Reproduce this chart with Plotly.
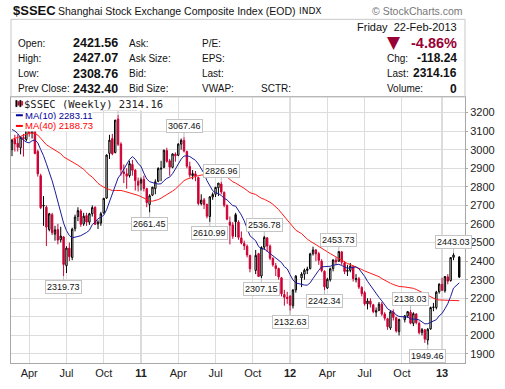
import pandas as pd
import plotly.graph_objects as go

# ---------------- data ----------------
first_week = "2010-02-22"   # Monday of first weekly bar
n_weeks = 157

opens = [3000, 3055, 3035, 3010, 3065, 3055, 3110, 3090, 3100, 2990, 2860, 2700, 2690, 2570, 2650, 2545, 2570, 2515, 2530, 2375,
         2470, 2420, 2575, 2640, 2670, 2600, 2645, 2610, 2655, 2690, 2600, 2605, 2660, 2740, 2980, 3060, 2985, 3165, 3030, 2880,
         2870, 2860, 2920, 2890, 2830, 2820, 2840, 2790, 2705, 2755, 2790, 2830, 2895, 2905, 2995, 2940, 2905, 2975, 2970, 3030,
         3050, 2990, 2910, 2860, 2870, 2850, 2710, 2730, 2705, 2640, 2745, 2760, 2795, 2815, 2770, 2700, 2610, 2595, 2650, 2610,
         2525, 2495, 2480, 2430, None, 2350, 2440, 2320, 2475, 2525, 2480, 2415, 2375, 2360, 2310, 2220, 2205, 2212, 2160, 2245,
         None, 2310, 2330, 2350, 2360, 2440, 2460, 2440, 2400, 2345, 2255, 2300, 2360, 2405, 2400, 2450, 2390, 2345, 2350, 2370,
         2300, 2305, 2258, 2230, 2170, 2185, 2165, 2125, 2135, 2168, 2115, 2090, 2040, 2125, 2095, 2020, None, 2085, 2105, 2125,
         2065, 2115, 2065, 2015, 2030, 1975, 2035, 2150, 2150, 2235, 2275, 2240, 2315, 2295, 2420, None, 2421.56]
highs = [3058, 3080, 3082, 3070, 3085, 3125, 3128, 3120, 3105, 3000, 2870, 2750, 2700, 2660, 2660, 2590, 2600, 2585, 2535, 2480,
         2500, 2580, 2650, 2690, 2680, 2660, 2660, 2660, 2700, 2695, 2620, 2665, 2740, 2975, 3080, 3085, 3160, 3186.72, 3040, 2920,
         2900, 2940, 2945, 2895, 2850, 2850, 2860, 2795, 2760, 2800, 2840, 2905, 2940, 3000, 3010, 2950, 2980, 2985, 3035, 3060,
         3067.46, 2995, 2935, 2890, 2885, 2855, 2760, 2740, 2710, 2750, 2770, 2800, 2820, 2826.96, 2775, 2705, 2640, 2610, 2660, 2620,
         2560, 2510, 2490, 2435, None, 2460, 2445, 2480, 2536.78, 2530, 2490, 2420, 2390, 2365, 2315, 2245, 2235, 2215, 2250, 2325,
         None, 2340, 2360, 2370, 2445, 2478, 2465, 2450, 2410, 2350, 2310, 2365, 2410, 2420, 2453.73, 2452, 2400, 2380, 2390, 2375,
         2330, 2315, 2265, 2240, 2200, 2200, 2170, 2150, 2180, 2180, 2125, 2095, 2135, 2140, 2100, 2090, None, 2110, 2130, 2138.03,
         2125, 2120, 2075, 2040, 2035, 2040, 2155, 2175, 2240, 2280, 2310, 2320, 2330, 2420, 2443.03, None, 2427.07]
lows = [2965, 2990, 2990, 2975, 2963, 3045, 3070, 3060, 2975, 2855, 2680, 2590, 2481, 2560, 2540, 2510, 2490, 2500, 2319.73, 2336,
        2400, 2405, 2560, 2615, 2585, 2590, 2590, 2595, 2640, 2595, 2573, 2590, 2655, 2735, 2950, 2970, 2980, 3020, 2860, 2820,
        2790, 2850, 2860, 2780, 2775, 2780, 2775, 2690, 2661.45, 2750, 2760, 2825, 2830, 2900, 2930, 2860, 2900, 2935, 2965, 3000,
        2985, 2900, 2850, 2840, 2830, 2700, 2700, 2680, 2630, 2610.99, 2730, 2745, 2750, 2760, 2690, 2620, 2490, 2520, 2530, 2515,
        2490, 2460, 2420, 2340, None, 2330, 2315, 2307.15, 2460, 2450, 2405, 2370, 2320, 2300, 2210, 2160, 2170, 2132.63, 2145, 2230,
        None, 2260, 2300, 2330, 2355, 2430, 2400, 2380, 2340, 2242.34, 2250, 2290, 2345, 2380, 2395, 2380, 2330, 2320, 2340, 2290,
        2285, 2250, 2210, 2160, 2140, 2150, 2120, 2100, 2130, 2105, 2080, 2030, 2030, 2080, 2015, 2000, None, 2070, 2095, 2060,
        2050, 2060, 2005, 2000, 1960, 1949.46, 2030, 2130, 2140, 2225, 2240, 2230, 2275, 2290, 2405, None, 2308.76]
closes = [3051, 3031, 3013, 3067, 3059, 3110, 3090, 3100, 2980, 2870, 2688, 2697, 2583, 2655, 2553, 2568, 2513, 2535, 2382, 2470,
          2424, 2572, 2637, 2672, 2598, 2642, 2610, 2655, 2688, 2598, 2610, 2655, 2738, 2971, 3051, 2978, 3159, 3029, 2894, 2871,
          2857, 2925, 2889, 2834, 2808, 2838, 2791, 2715, 2752, 2798, 2827, 2899, 2900, 2997, 2937, 2906, 2977, 2967, 3030, 3050,
          2993, 2911, 2863, 2871, 2858, 2710, 2728, 2705, 2642, 2746, 2759, 2797, 2820, 2772, 2701, 2626, 2593, 2534, 2612, 2528,
          2497, 2482, 2433, 2359, None, 2431, 2317, 2473, 2528, 2481, 2416, 2380, 2360, 2315, 2224, 2205, 2199, 2163, 2244, 2319,
          None, 2330, 2351, 2357, 2439, 2460, 2439, 2404, 2349, 2262, 2302, 2359, 2406, 2396, 2452, 2394, 2344, 2350, 2373, 2306,
          2306, 2260, 2225, 2170, 2185, 2168, 2128, 2133, 2168, 2115, 2093, 2047, 2127, 2097, 2024, 2086, None, 2105, 2128, 2066,
          2117, 2069, 2015, 2031, 1980, 2033, 2150, 2153, 2233, 2276, 2243, 2317, 2292, 2419, 2432.40, None, 2314.16]

# weekly closes before the first visible bar (for the moving averages)
pre_closes = [2780, 2810, 2840, 2850, 2880, 2905, 3012, 3113, 3189, 3372, 3412, 3260, 3046, 2960, 2860, 2861, 3029, 3060,
              2880, 2779, 2911, 2976, 3039, 2995, 3130, 3187, 3308, 3096, 3323, 3248, 3113, 3154, 3277, 3196, 3224, 3128,
              2989, 2939, 3018]

# swing labels: (week index, which)
swing_labels = [(37, "high"), (18, "low"), (60, "high"), (48, "low"), (73, "high"), (69, "low"), (88, "high"),
                (87, "low"), (97, "low"), (114, "high"), (109, "low"), (139, "high"), (145, "low"), (154, "high")]

legend_values = {"price": "2314.16", "ma10": "2283.11", "ma40": "2188.73"}
candle_override = {156: "filled_black"}

y_ticks = list(range(1900, 3300, 100))

# ---------------- derived ----------------
weeks = pd.date_range(first_week, periods=n_weeks, freq="7D")
idx = list(range(n_weeks))

prev_close = []
last = pre_closes[-1]
for c in closes:
    prev_close.append(last)
    if c is not None:
        last = c

def kind(i):
    if i in candle_override:
        return candle_override[i]
    up = closes[i] >= opens[i]
    higher = closes[i] >= prev_close[i]
    if up and higher:
        return "hollow_black"
    if up and not higher:
        return "hollow_red"
    if (not up) and higher:
        return "filled_black"
    return "filled_red"

RED = "#cc0033"
styles = {
    "hollow_black": ("#000000", "#ffffff"),
    "filled_black": ("#000000", "#000000"),
    "hollow_red": (RED, "#ffffff"),
    "filled_red": (RED, RED),
}

valid = [i for i in idx if closes[i] is not None]
series = pd.Series(pre_closes + [closes[i] for i in valid])
ma10_all = series.rolling(10).mean().tolist()[len(pre_closes):]
ma40_all = series.rolling(40).mean().tolist()[len(pre_closes):]

fig = go.Figure()

for k, (lc, fc) in styles.items():
    sel = [i for i in valid if kind(i) == k]
    if not sel:
        continue
    fig.add_trace(go.Candlestick(
        x=sel,
        open=[opens[i] for i in sel], high=[highs[i] for i in sel],
        low=[lows[i] for i in sel], close=[closes[i] for i in sel],
        increasing=dict(line=dict(color=lc, width=1), fillcolor=fc),
        decreasing=dict(line=dict(color=lc, width=1), fillcolor=fc),
        whiskerwidth=0, showlegend=False, hoverinfo="skip",
    ))

fig.add_trace(go.Scatter(x=valid, y=ma40_all, mode="lines", line=dict(color="#ff1a1a", width=1),
                         showlegend=False, hoverinfo="skip"))
fig.add_trace(go.Scatter(x=valid, y=ma10_all, mode="lines", line=dict(color="#1c1c9c", width=1),
                         showlegend=False, hoverinfo="skip"))

# x ticks: first week of each quarter month
tickvals, ticktext = [], []
seen = set()
for i, d in enumerate(weeks):
    key = (d.year, d.month)
    if d.month in (1, 4, 7, 10) and key not in seen and d.day <= 7:
        seen.add(key)
        tickvals.append(i)
        ticktext.append(f"<b>{d.strftime('%y')}</b>" if d.month == 1 else d.strftime("%b"))

W, H = 505, 389
L, R, T, B = 10, 35, 97, 18
pw, ph = W - L - R, H - T - B

def px(xp):
    return (xp - L) / pw

def py(yp):
    return (H - B - yp) / ph

x_range = [(L - 11) / 2.905, (W - R - 11) / 2.905]
y_range = [1851.4, 3283.6]

shapes = []
for tv, tt in zip(tickvals, ticktext):
    if tt.startswith("<b>"):
        shapes.append(dict(type="line", xref="x", yref="paper", x0=tv, x1=tv, y0=0, y1=1,
                           line=dict(color="#b4b4b4", width=1), layer="between"))
shapes.append(dict(type="rect", xref="paper", yref="paper", x0=0, x1=1, y0=1, y1=py(17),
                   line=dict(color="#c8c8c8", width=1), fillcolor="rgba(0,0,0,0)"))

ann = []
SANS = "Liberation Sans, Arial, sans-serif"

def txt(x, y, s, anchor="left", size=11, color="#111", bold=False, family=SANS, **kw):
    if bold:
        s = f"<b>{s}</b>"
    ann.append(dict(xref="paper", yref="paper", x=px(x), y=py(y), text=s, showarrow=False,
                    xanchor=anchor, yanchor="middle", font=dict(size=size, color=color, family=family), **kw))

for i, which in swing_labels:
    val = highs[i] if which == "high" else lows[i]
    ann.append(dict(x=i, y=val, xref="x", yref="y", text=f"{val:.2f}", showarrow=True, arrowhead=0,
                    arrowcolor="#bdbdbd", arrowwidth=1, ax=0, ay=-11 if which == "high" else 11,
                    bgcolor="white", bordercolor="#c4c4c4", borderwidth=1, borderpad=1,
                    font=dict(size=9, family=SANS, color="#111")))

# header
txt(10, 7.5, "$SSEC", size=13, bold=True, color="#111")
txt(56, 8, "Shanghai Stock Exchange Composite Index (EOD)", size=10.5)
txt(300, 8, "INDX", size=9, family="DejaVu Sans, sans-serif")
txt(470, 8, "© StockCharts.com", anchor="right", size=10.5, color="#777")

rows_y = [41.7, 57.3, 73, 88.7]
left_labels = ["Open:", "High:", "Low:", "Prev Close:"]
left_vals = ["2421.56", "2427.07", "2308.76", "2432.40"]
mid_labels = ["Ask:", "Ask Size:", "Bid:", "Bid Size:"]
pe_labels = ["P/E:", "EPS:", "Last:", "VWAP:"]
for yy, a, v, m, p in zip(rows_y, left_labels, left_vals, mid_labels, pe_labels):
    txt(15, yy, a, size=10)
    txt(120, yy, v, anchor="right", size=12.5, bold=True)
    txt(128, yy, m, size=10)
    txt(201, yy, p, size=10)
txt(261, 88.7, "SCTR:", size=10)
txt(463.5, 25, "Friday&nbsp;&nbsp;22-Feb-2013", anchor="right", size=11)
txt(398, 40, "▼", anchor="center", size=17, color="#990033", family="DejaVu Sans, sans-serif")
txt(463.5, 41, "-4.86%", anchor="right", size=14.5, bold=True, color="#990033")
txt(389, 57.3, "Chg:", size=10)
txt(463.5, 57.3, "-118.24", anchor="right", size=12, bold=True)
txt(389, 72.6, "Last:", size=10)
txt(463.5, 72.6, "2314.16", anchor="right", size=12, bold=True)
txt(389, 88.7, "Volume:", size=10)
txt(463.5, 88.7, "0", anchor="right", size=12, bold=True)

# in-chart legend
txt(22, 104.3, f"$SSEC (Weekly) {legend_values['price']}", size=10.5, color="#222",
    family="DejaVu Sans Mono, monospace", bgcolor="white", borderpad=0)
txt(23, 115.8, f"MA(10) {legend_values['ma10']}", size=9.5, color="#000099", bgcolor="white", borderpad=0)
txt(23, 126.8, f"MA(40) {legend_values['ma40']}", size=9.5, color="#ff0000", bgcolor="white", borderpad=0)
shapes.append(dict(type="line", xref="paper", yref="paper", x0=px(15), x1=px(22), y0=py(115.8), y1=py(115.8),
                   line=dict(color="#000099", width=2)))
shapes.append(dict(type="line", xref="paper", yref="paper", x0=px(15), x1=px(22), y0=py(126.8), y1=py(126.8),
                   line=dict(color="#ff0000", width=2)))
for k2, (xx, c2) in enumerate([(15.5, "#000"), (17.5, RED), (19.5, "#000"), (21.3, RED)]):
    shapes.append(dict(type="rect", xref="paper", yref="paper", x0=px(xx - 0.7), x1=px(xx + 0.7),
                       y0=py(107 - (k2 % 2) * 1.5), y1=py(100.5 + (k2 % 2) * 1.0),
                       line=dict(color=c2, width=0.5), fillcolor=c2))

fig.update_layout(
    width=W, height=H, margin=dict(l=L, r=R, t=T, b=B),
    paper_bgcolor="white", plot_bgcolor="white",
    font=dict(family=SANS, size=11, color="#222"),
    showlegend=False,
    xaxis=dict(range=x_range, tickvals=tickvals, ticktext=ticktext, showgrid=True, gridcolor="#dcdcdc",
               gridwidth=1, zeroline=False, showline=True, mirror=True, linecolor="#a8a8a8", ticks="",
               rangeslider=dict(visible=False), tickfont=dict(size=11, color="#222")),
    yaxis=dict(range=y_range, side="right", tickvals=y_ticks, showgrid=True, gridcolor="#dcdcdc",
               zeroline=False, showline=True, mirror=True, linecolor="#a8a8a8", ticks="outside",
               ticklen=2, tickcolor="#a8a8a8", tickfont=dict(size=11, color="#222")),
    shapes=shapes, annotations=ann,
)

fig.write_html("out.html", config={"displayModeBar": False},
               post_script="document.body.style.margin='0px';document.body.style.overflow='hidden';")
